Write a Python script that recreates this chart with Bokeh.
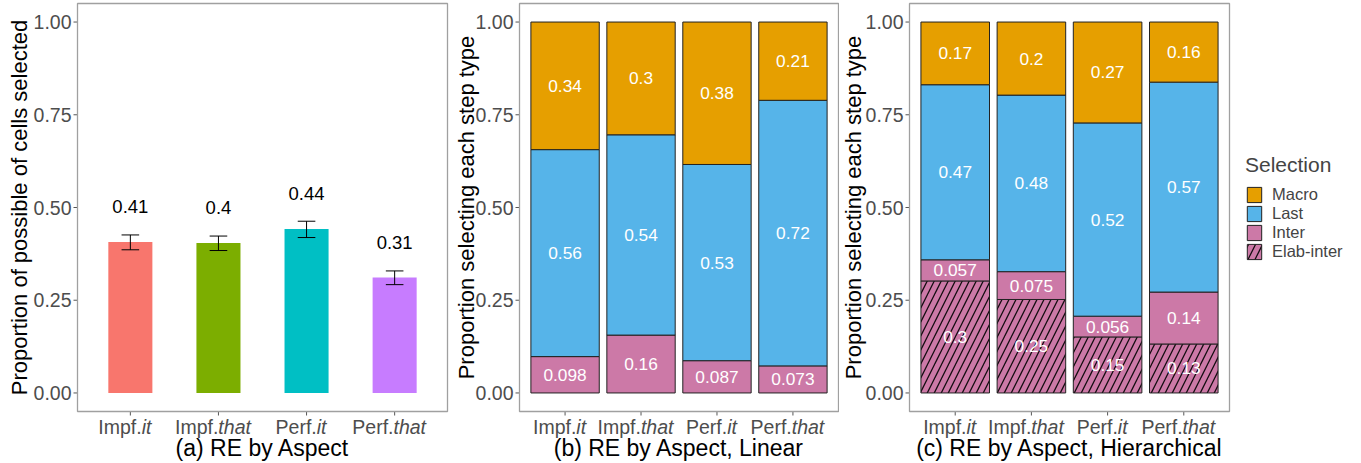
import math
from bokeh.plotting import figure
from bokeh.layouts import row
from bokeh.models import Range1d, Legend, LegendItem
from bokeh.core.properties import value
from bokeh.embed import file_html
from bokeh.resources import INLINE

# ---------------- data ----------------
categories = ["Impf.it", "Impf.that", "Perf.it", "Perf.that"]
cat_main = ["Impf.", "Impf.", "Perf.", "Perf."]
cat_ital = ["it", "that", "it", "that"]
y_ticks = [0.0, 0.25, 0.50, 0.75, 1.00]
y_tick_labels = ["0.00", "0.25", "0.50", "0.75", "1.00"]

# (a) proportion of possible cells selected
a_values = [0.407, 0.404, 0.442, 0.311]
a_lower = [0.386, 0.384, 0.419, 0.292]
a_upper = [0.426, 0.423, 0.463, 0.329]
a_colors = ["#F8766D", "#7CAE00", "#00BFC4", "#C77CFF"]

# (b) linear: stacked from bottom Inter, Last, Macro
b_inter = [0.098, 0.156, 0.087, 0.073]
b_last = [0.558, 0.540, 0.529, 0.716]
b_macro = [0.344, 0.304, 0.384, 0.211]

# (c) hierarchical: stacked from bottom Elab-inter, Inter, Last, Macro
c_elab = [0.302, 0.252, 0.151, 0.132]
c_inter = [0.057, 0.075, 0.056, 0.140]
c_last = [0.472, 0.476, 0.521, 0.566]
c_macro = [0.169, 0.197, 0.272, 0.162]

sel_names = ["Macro", "Last", "Inter", "Elab-inter"]
sel_colors = {"Macro": "#E69F00", "Last": "#56B4E9", "Inter": "#CC79A7", "Elab-inter": "#CC79A7"}

titles = ["(a) RE by Aspect", "(b) RE by Aspect, Linear", "(c) RE by Aspect, Hierarchical"]
ylabels = ["Proportion of possible of cells selected",
           "Proportion selecting each step type",
           "Proportion selecting each step type"]

# ---------------- styling / geometry ----------------
FONT = "Liberation Sans"
GRAY = "#4D4D4D"
BORDER = "#A0A0A0"
H = 463
PANEL_TOP = 3
PANEL_H = 408
XLIM = (0.4, 4.6)
YLIM = (-0.05, 1.05)
TICK_FS = 19.5
XS = list(range(1, len(categories) + 1))

# approximate Arial/Liberation advance widths (em) for centring mixed-style labels
CW = {"I": .278, "m": .833, "p": .556, "f": .278, ".": .278, "P": .667, "e": .556,
      "r": .333, "i": .222, "t": .278, "h": .556, "a": .556}


def tw(s):
    return sum(CW.get(c, .55) for c in s) * TICK_FS


def fmt(v):
    return f"{v:.2g}"


def make_fig(width, left, panel_w, ylabel, title, ylab_off):
    xk = (XLIM[1] - XLIM[0]) / panel_w
    yk = (YLIM[1] - YLIM[0]) / PANEL_H
    x0 = XLIM[0] - left * xk
    x1 = XLIM[0] + (width - left) * xk
    y1 = YLIM[1] + PANEL_TOP * yk
    y0 = YLIM[1] - (H - PANEL_TOP) * yk
    p = figure(width=width, height=H, x_range=Range1d(x0, x1), y_range=Range1d(y0, y1),
               output_backend="svg", toolbar_location=None,
               min_border_left=0, min_border_right=0, min_border_top=0, min_border_bottom=0)
    p.xaxis.visible = False
    p.yaxis.visible = False
    p.xgrid.visible = False
    p.ygrid.visible = False
    p.outline_line_color = None
    p.background_fill_color = "white"
    p.border_fill_color = "white"

    # panel border
    p.quad(left=XLIM[0], right=XLIM[1], bottom=YLIM[0], top=YLIM[1], fill_color=None,
           line_color=BORDER, line_width=1.3, level="overlay")
    # y ticks + labels
    p.segment(x0=[XLIM[0] - 4 * xk] * len(y_ticks), x1=[XLIM[0]] * len(y_ticks),
              y0=y_ticks, y1=y_ticks, line_color="#555555", line_width=1)
    p.text(x=[XLIM[0] - 6 * xk] * len(y_ticks), y=y_ticks, text=y_tick_labels,
           text_align="right", text_baseline="middle", text_color=GRAY,
           text_font=value(FONT), text_font_size=f"{TICK_FS}px")
    # y title
    p.text(x=[XLIM[0] - ylab_off * xk], y=[(YLIM[0] + YLIM[1]) / 2], text=[ylabel], angle=math.pi / 2,
           text_align="center", text_baseline="middle", text_color="black",
           text_font=value(FONT), text_font_size="22px")
    # x ticks + labels
    p.segment(x0=XS, x1=XS, y0=[YLIM[0]] * len(XS), y1=[YLIM[0] - 4 * yk] * len(XS),
              line_color="#555555", line_width=1)
    xm = []
    for x, m, it in zip(XS, cat_main, cat_ital):
        w1, w2 = tw(m), tw(it)
        split = -(w1 + w2) / 2 + w1 - 5.5
        xm.append(x + split * xk)
    p.text(x=xm, y=[YLIM[0] - 15.5 * yk] * len(XS), text=cat_main, text_align="right",
           text_baseline="middle", text_color=GRAY, text_font=value(FONT),
           text_font_size=f"{TICK_FS}px")
    p.text(x=xm, y=[YLIM[0] - 15.5 * yk] * len(XS), text=cat_ital, text_align="left",
           text_baseline="middle", text_color=GRAY, text_font=value(FONT),
           text_font_style="italic", text_font_size=f"{TICK_FS}px")
    # x title
    p.text(x=[(XLIM[0] + XLIM[1]) / 2], y=[YLIM[0] - 36.5 * yk], text=[title], text_align="center",
           text_baseline="middle", text_color="black", text_font=value(FONT),
           text_font_size="23px")
    return p


# ---------------- (a) ----------------
pa = make_fig(449, 77, 370, ylabels[0], titles[0], 58)
pa.vbar(x=XS, top=a_values, bottom=0, width=0.5, fill_color=a_colors, line_color=None)
pa.segment(x0=XS, x1=XS, y0=a_lower, y1=a_upper, line_color="black", line_width=1)
pa.segment(x0=[x - 0.1 for x in XS], x1=[x + 0.1 for x in XS], y0=a_upper, y1=a_upper,
           line_color="black", line_width=1)
pa.segment(x0=[x - 0.1 for x in XS], x1=[x + 0.1 for x in XS], y0=a_lower, y1=a_lower,
           line_color="black", line_width=1)
pa.text(x=XS, y=[v + 0.095 for v in a_values], text=[fmt(v) for v in a_values],
        text_align="center", text_baseline="middle", text_color="black",
        text_font=value(FONT), text_font_size="18.5px")


def stacked(p, layers, width=0.9):
    """layers: list of (name, values, hatch) bottom to top"""
    bottoms = [0.0] * len(XS)
    rends = {}
    for name, vals, hatch in layers:
        tops = [b + v for b, v in zip(bottoms, vals)]
        kw = {}
        if hatch:
            kw = dict(hatch_pattern="/", hatch_color="black", hatch_alpha=0.9,
                      hatch_scale=14, hatch_weight=1.3)
        r = p.vbar(x=XS, bottom=bottoms, top=tops, width=width, fill_color=sel_colors[name],
                   line_color="#222222", line_width=1, **kw)
        rends[name] = r
        p.text(x=XS, y=[(b + t) / 2 for b, t in zip(bottoms, tops)], text=[fmt(v) for v in vals],
               text_align="center", text_baseline="middle", text_color="white",
               text_font=value(FONT), text_font_size="17.3px")
        bottoms = tops
    return rends


# ---------------- (b) ----------------
pb = make_fig(390, 70, 319, ylabels[1], titles[1], 53)
stacked(pb, [("Inter", b_inter, False), ("Last", b_last, False), ("Macro", b_macro, False)])

# ---------------- (c) ----------------
pc = make_fig(522, 70, 320, ylabels[2], titles[2], 56)
rc = stacked(pc, [("Elab-inter", c_elab, True), ("Inter", c_inter, False),
                  ("Last", c_last, False), ("Macro", c_macro, False)])
legend = Legend(items=[LegendItem(label=n, renderers=[rc[n]]) for n in sel_names],
                title="Selection", title_text_font=FONT, title_text_font_size="21px",
                title_text_font_style="normal", title_standoff=8,
                label_text_font=FONT, label_text_font_size="16.5px",
                glyph_width=18, glyph_height=19, label_height=19, spacing=0,
                label_standoff=9, padding=7, margin=0,
                border_line_color=None, background_fill_alpha=0, location=(406, 202))
pc.add_layout(legend, "center")

layout = row(pa, pb, pc, spacing=0)
open("out.html", "w").write(file_html(layout, INLINE))
